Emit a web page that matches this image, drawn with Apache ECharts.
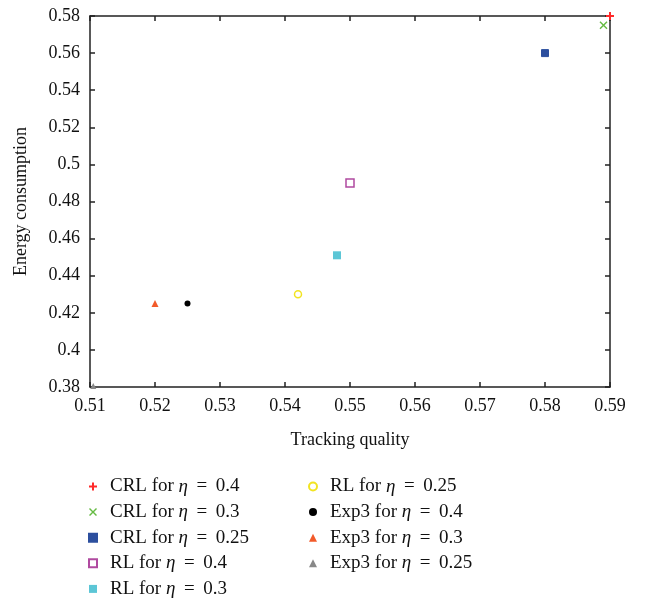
<!DOCTYPE html>
<html lang="en">
  <head>
    <meta charset="UTF-8" />
    <title>Tracking quality vs energy consumption</title>
    <script src="https://cdn.jsdelivr.net/npm/echarts@6/dist/echarts.min.js"></script>
  </head>
  <body style="margin: 0">
    <div id="main" style="height: 602px; width: 645px"></div>
  </body>
</html>
<script>
  // values
  const seriesNames = [
    'CRL for η = 0.4',
    'CRL for η = 0.3',
    'CRL for η = 0.25',
    'RL for η = 0.4',
    'RL for η = 0.3',
    'RL for η = 0.25',
    'Exp3 for η = 0.4',
    'Exp3 for η = 0.3',
    'Exp3 for η = 0.25'
  ]
  const trackingQuality = [0.59, 0.589, 0.58, 0.55, 0.548, 0.542, 0.525, 0.52, 0.5105]
  const energyConsumption = [0.58, 0.575, 0.56, 0.49, 0.451, 0.43, 0.425, 0.425, 0.3805]

  // marker styles
  const colors = ['#ff2a2a', '#66bb44', '#2c4f9e', '#b04aa0', '#5cc6d6', '#f2e422', '#000000', '#f25a2a', '#888888']
  const plus = 'path://M3,0H5V3H8V5H5V8H3V5H0V3H3Z'
  const cross = 'path://M0,1L1,0L4,3L7,0L8,1L5,4L8,7L7,8L4,5L1,8L0,7L3,4Z'
  const symbols = [plus, cross, 'rect', 'rect', 'rect', 'circle', 'circle', 'triangle', 'triangle']
  const fills = ['#ff2a2a', '#66bb44', '#2c4f9e', '#ffffff', '#5cc6d6', '#ffffff', '#000000', '#f25a2a', '#888888']
  const borders = [0, 0, 1, 1.5, 0, 1.5, 0, 0, 0]
  const sizes = [8, 8, 7, 8, 8, 7, 6, 7, 6]

  const serif = 'Liberation Serif'

  const chartInstance = echarts.init(document.getElementById('main'))

  const series = seriesNames.map((name, i) => {
    return {
      name: name,
      type: 'scatter',
      symbol: symbols[i],
      symbolSize: sizes[i],
      data: [[trackingQuality[i], energyConsumption[i]]],
      itemStyle: {
        color: fills[i],
        borderColor: colors[i],
        borderWidth: borders[i],
        opacity: 1
      },
      z: 3
    }
  })

  const legendText = {
    fontFamily: serif,
    fontSize: 19,
    color: '#111',
    padding: [0, 0, 0, 8],
    rich: {
      a: { fontFamily: serif, fontSize: 19, color: '#111' },
      i: { fontFamily: serif, fontSize: 19, color: '#111', fontStyle: 'italic' }
    }
  }

  function legendFormatter(name) {
    const parts = name.split('η')
    const rest = parts[1].replace(' = ', '\u2009 = \u2009')
    return '{a|' + parts[0] + '}{i|η}{a|' + rest + '}'
  }

  const baseLegend = {
    orient: 'vertical',
    itemWidth: 8,
    itemHeight: 8,
    itemGap: 6.6,
    padding: 0,
    height: 135,
    textStyle: legendText,
    formatter: legendFormatter,
    selectedMode: false
  }

  const axisLine = { show: true, lineStyle: { color: '#222', width: 1.5 } }
  const axisTick = { show: true, inside: true, length: 5, lineStyle: { color: '#222', width: 1.5 } }
  const axisLabel = { fontFamily: serif, fontSize: 18, color: '#111' }

  const option = {
    animation: false,
    grid: { left: 90, right: 35, top: 16, bottom: 215 },
    legend: [
      Object.assign({}, baseLegend, { left: 88, top: 477, data: seriesNames.slice(0, 5) }),
      Object.assign({}, baseLegend, { left: 308, top: 477, data: seriesNames.slice(5) })
    ],
    xAxis: [
      {
        type: 'value',
        min: 0.51,
        max: 0.59,
        interval: 0.01,
        name: 'Tracking quality',
        nameLocation: 'middle',
        nameGap: 44,
        nameTextStyle: { fontFamily: serif, fontSize: 18, color: '#111' },
        axisLine: axisLine,
        axisTick: axisTick,
        axisLabel: Object.assign({ margin: 10 }, axisLabel),
        splitLine: { show: false }
      },
      {
        type: 'value',
        position: 'top',
        min: 0.51,
        max: 0.59,
        interval: 0.01,
        axisLine: axisLine,
        axisTick: axisTick,
        axisLabel: { show: false },
        splitLine: { show: false }
      }
    ],
    yAxis: [
      {
        type: 'value',
        min: 0.38,
        max: 0.58,
        interval: 0.02,
        name: 'Energy consumption',
        nameLocation: 'middle',
        nameGap: 60,
        nameTextStyle: { fontFamily: serif, fontSize: 18, color: '#111' },
        axisLine: axisLine,
        axisTick: axisTick,
        axisLabel: Object.assign({ margin: 10 }, axisLabel),
        splitLine: { show: false }
      },
      {
        type: 'value',
        position: 'right',
        min: 0.38,
        max: 0.58,
        interval: 0.02,
        axisLine: axisLine,
        axisTick: axisTick,
        axisLabel: { show: false },
        splitLine: { show: false }
      }
    ],
    series: series
  }

  chartInstance.setOption(option)

  window.addEventListener('resize', () => {
    chartInstance.resize()
  })
</script>
